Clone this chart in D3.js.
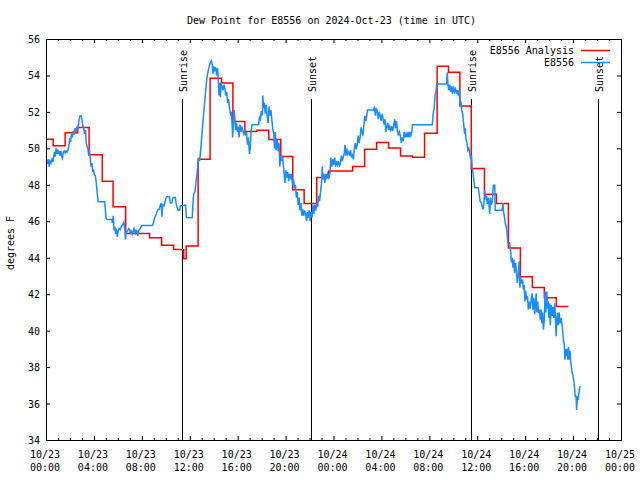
<!DOCTYPE html>
<html><head><meta charset="utf-8">
<script src="https://cdn.jsdelivr.net/npm/d3@7"></script>
<style>
body{margin:0;background:#fff}
svg{display:block}
text{font-family:"DejaVu Sans Mono","Liberation Mono",monospace;font-size:10px;fill:#000}
</style>
</head><body>
<svg id="chart" width="640" height="480"></svg>
<script>
const titleText = "Dew Point for E8556 on 2024-Oct-23 (time in UTC)";
const yAxisLabel = "degrees F";
const seriesNames = ["E8556 Analysis", "E8556"];
const seriesColors = ["#ff0000", "#1a8cff"];
const yTicks = [34, 36, 38, 40, 42, 44, 46, 48, 50, 52, 54, 56];
const xTickHours = [0, 4, 8, 12, 16, 20, 24, 28, 32, 36, 40, 44, 48];
const xTickDates = ["10/23","10/23","10/23","10/23","10/23","10/23","10/24","10/24","10/24","10/24","10/24","10/24","10/25"];
const xTickTimes = ["00:00","04:00","08:00","12:00","16:00","20:00","00:00","04:00","08:00","12:00","16:00","20:00","00:00"];
const sunriseHours = [11.38, 35.45];
const sunsetHours = [22.1, 46.08];

// Analysis (hourly step values), hours since 2024-10-23 00:00 UTC
const analysisHours = [0, 0.6, 1.6, 2.65, 3.6, 4.7, 5.6, 6.65, 7.65, 8.65, 9.65, 10.65, 11.5, 11.7, 12.7, 13.7, 14.65, 15.6, 16.6, 17.6, 18.6, 19.6, 20.6, 21.55, 22.6, 23.6, 24.6, 25.6, 26.6, 27.6, 28.6, 29.6, 30.6, 31.6, 32.65, 33.6, 34.55, 35.5, 36.6, 37.6, 38.6, 39.6, 40.6, 41.6, 42.6, 43.6];
const analysisValues = [50.5, 50.15, 50.85, 51.15, 49.65, 48.2, 46.8, 45.33, 45.33, 45.09, 44.69, 44.45, 43.94, 44.65, 49.4, 53.84, 53.58, 51.47, 50.92, 51.0, 50.48, 49.55, 47.73, 46.98, 48.4, 48.76, 48.76, 49.0, 49.95, 50.32, 50.02, 49.58, 49.51, 50.83, 54.5, 54.17, 52.33, 48.89, 47.48, 46.97, 44.54, 42.95, 42.36, 41.81, 41.32, 41.32];

// Station observations [hour, dew point F]
const observed = [
[0.05,49.4],[0.12,49.15],[0.2,49.4],[0.27,49.0],[0.34,49.3],[0.42,49.2],[0.5,49.4],[0.57,49.25],[0.64,49.55],[0.7,49.8],[0.77,49.55],[0.84,50.0],[0.9,49.7],[0.97,49.95],[1.04,49.7],[1.1,49.85],[1.17,49.6],[1.24,49.85],[1.3,49.55],[1.37,49.45],[1.44,49.8],[1.52,49.85],[1.6,49.75],[1.68,49.85],[1.76,49.8],[1.84,49.9],[1.92,50.2],[1.98,50.55],[2.05,50.35],[2.12,50.8],[2.2,50.6],[2.27,50.95],[2.34,50.75],[2.42,51.1],[2.5,50.9],[2.57,51.2],[2.64,51.0],[2.7,51.3],[2.77,51.6],[2.84,51.78],[2.95,51.78],[3.02,51.5],[3.08,51.2],[3.15,51.1],[3.22,50.8],[3.3,51.0],[3.36,50.3],[3.43,50.1],[3.5,49.95],[3.57,49.6],[3.64,49.85],[3.7,49.35],[3.77,49.0],[3.84,49.2],[3.9,48.7],[3.97,48.85],[4.04,48.55],[4.12,48.5],[4.2,48.1],[4.27,47.55],[4.36,47.07],[4.6,47.07],[4.9,47.07],[4.96,46.6],[5.02,46.15],[5.1,46.1],[5.5,46.1],[5.55,45.9],[5.62,46.3],[5.68,45.5],[5.75,45.7],[5.82,45.3],[5.88,45.6],[5.95,45.15],[6.02,45.45],[6.1,45.6],[6.2,45.55],[6.3,45.75],[6.4,45.8],[6.5,45.95],[6.58,45.6],[6.63,45.0],[6.7,45.4],[6.8,45.45],[6.9,45.6],[6.98,45.55],[7.05,45.3],[7.12,45.5],[7.2,45.3],[7.28,45.45],[7.35,45.6],[7.45,45.35],[7.52,45.5],[7.6,45.45],[7.65,45.2],[7.72,45.5],[7.8,45.55],[7.9,45.65],[7.98,45.77],[8.9,45.77],[8.98,45.95],[9.05,46.15],[9.15,46.3],[9.25,46.5],[9.35,46.65],[9.45,46.65],[9.55,46.9],[9.62,47.0],[9.68,46.25],[9.74,46.9],[9.85,46.85],[9.95,47.1],[10.05,47.35],[10.3,47.35],[10.38,47.0],[10.5,47.0],[10.6,47.3],[10.8,47.3],[10.88,46.9],[10.95,46.75],[11.05,46.6],[11.15,46.6],[11.22,46.85],[11.5,46.87],[11.65,46.9],[11.72,46.2],[12.2,46.19],[12.26,46.9],[12.33,47.5],[12.42,47.6],[12.5,48.0],[12.58,48.5],[12.66,48.9],[12.74,49.5],[12.82,49.3],[12.9,49.8],[12.97,50.4],[13.05,51.0],[13.12,51.6],[13.2,52.2],[13.27,52.7],[13.35,53.3],[13.42,53.8],[13.5,54.1],[13.57,54.35],[13.65,54.55],[13.72,54.7],[13.8,54.8],[13.88,54.6],[13.94,54.1],[14.0,54.5],[14.08,54.3],[14.16,54.45],[14.24,54.0],[14.32,54.4],[14.38,53.8],[14.44,52.9],[14.5,53.6],[14.56,52.8],[14.62,53.5],[14.7,53.4],[14.78,53.2],[14.86,53.5],[14.94,53.25],[15.0,52.9],[15.08,53.1],[15.16,52.5],[15.24,52.7],[15.32,52.2],[15.4,51.9],[15.46,52.0],[15.52,51.5],[15.58,50.6],[15.64,51.3],[15.7,52.1],[15.76,51.7],[15.83,51.0],[15.9,51.4],[15.98,50.9],[16.05,51.2],[16.12,50.6],[16.2,51.3],[16.28,50.9],[16.35,51.2],[16.42,51.0],[16.5,50.8],[16.58,51.0],[16.66,50.7],[16.74,50.9],[16.82,50.2],[16.9,50.6],[16.98,49.7],[17.05,50.0],[17.12,50.9],[17.2,51.3],[17.3,51.3],[17.75,51.3],[17.82,51.7],[17.9,51.6],[17.98,52.05],[18.06,51.8],[18.1,52.9],[18.16,52.2],[18.22,52.5],[18.3,51.9],[18.38,52.4],[18.46,51.8],[18.54,51.4],[18.62,52.3],[18.7,51.8],[18.78,52.1],[18.86,51.5],[18.94,51.0],[19.02,50.8],[19.08,50.0],[19.14,50.9],[19.22,49.9],[19.3,50.5],[19.38,49.85],[19.45,50.3],[19.52,49.0],[19.58,49.6],[19.66,49.3],[19.74,49.6],[19.82,49.0],[19.88,48.6],[19.95,48.1],[20.02,48.8],[20.1,48.4],[20.18,48.7],[20.26,48.2],[20.34,48.6],[20.42,48.4],[20.5,48.6],[20.58,48.0],[20.66,48.3],[20.74,47.8],[20.82,48.0],[20.9,47.3],[20.98,47.6],[21.05,46.9],[21.12,47.3],[21.2,46.6],[21.28,47.0],[21.36,46.3],[21.44,46.65],[21.52,46.3],[21.6,46.6],[21.68,46.4],[21.75,46.0],[21.82,46.5],[21.9,46.2],[21.97,46.6],[22.05,46.0],[22.12,46.5],[22.2,46.2],[22.28,46.9],[22.36,46.4],[22.44,46.9],[22.52,46.6],[22.6,47.0],[22.68,46.8],[22.76,47.4],[22.84,47.1],[22.92,47.6],[23.0,48.1],[23.06,49.0],[23.12,48.3],[23.2,48.6],[23.28,48.1],[23.36,48.6],[23.44,48.4],[23.52,48.6],[23.6,48.4],[23.7,48.6],[23.78,49.5],[23.86,49.0],[23.94,49.4],[24.02,49.1],[24.1,49.5],[24.18,49.0],[24.26,49.3],[24.34,49.1],[24.42,49.3],[24.5,49.0],[24.58,49.2],[24.66,49.6],[24.74,49.3],[24.82,49.55],[24.9,49.7],[24.96,50.2],[25.04,49.6],[25.1,50.0],[25.18,49.7],[25.26,49.8],[25.34,49.6],[25.42,49.9],[25.5,49.5],[25.58,49.7],[25.66,49.4],[25.74,50.0],[25.82,50.3],[25.9,49.95],[25.98,50.2],[26.06,50.7],[26.14,50.3],[26.22,50.6],[26.3,51.15],[26.38,50.9],[26.46,50.7],[26.54,51.3],[26.62,51.78],[26.7,51.5],[26.78,51.8],[26.84,52.1],[27.35,52.1],[27.42,52.3],[27.5,51.8],[27.58,52.2],[27.66,52.0],[27.74,51.6],[27.82,52.0],[27.9,51.8],[27.98,51.5],[28.06,51.9],[28.14,51.6],[28.22,51.3],[28.3,51.6],[28.38,50.9],[28.46,51.2],[28.54,51.4],[28.62,51.0],[28.7,51.2],[28.78,51.0],[28.86,51.2],[28.94,50.95],[29.02,51.2],[29.1,51.6],[29.18,51.1],[29.26,51.5],[29.34,50.95],[29.42,50.7],[29.5,50.9],[29.58,50.7],[29.66,50.3],[29.74,50.6],[29.82,50.4],[29.9,50.9],[29.98,50.6],[30.06,50.8],[30.14,50.6],[30.22,50.9],[30.3,50.6],[30.38,50.9],[30.46,50.7],[30.54,50.9],[30.6,51.3],[32.25,51.3],[32.32,51.9],[32.4,52.2],[32.48,52.9],[32.55,53.1],[32.62,53.53],[33.45,53.53],[33.5,54.17],[33.55,53.5],[33.62,53.2],[33.7,53.5],[33.78,53.1],[33.86,53.4],[33.94,53.0],[34.02,53.4],[34.1,53.1],[34.18,53.25],[34.26,53.0],[34.34,53.2],[34.42,52.9],[34.5,53.2],[34.56,52.3],[34.62,52.6],[34.7,52.1],[34.78,51.9],[34.86,51.4],[34.94,50.8],[35.0,51.1],[35.06,50.5],[35.14,50.3],[35.22,49.9],[35.3,50.0],[35.38,49.7],[35.46,49.4],[35.52,49.6],[35.58,48.9],[35.66,48.6],[35.74,48.1],[35.8,47.84],[36.08,47.84],[36.16,47.5],[36.24,47.1],[36.32,47.05],[36.42,46.8],[36.5,46.65],[36.56,47.0],[36.62,47.7],[36.68,47.2],[36.76,47.4],[36.84,46.95],[36.92,47.3],[36.98,46.9],[37.04,46.4],[37.1,47.3],[37.18,46.9],[37.26,47.1],[37.34,47.97],[37.46,47.97],[37.5,46.6],[38.08,46.6],[38.14,47.0],[38.2,46.5],[38.28,46.2],[38.35,45.85],[38.42,45.7],[38.5,45.3],[38.55,44.82],[38.7,44.82],[38.78,44.45],[38.85,43.75],[38.92,44.0],[38.98,43.45],[39.05,43.9],[39.12,43.15],[39.2,43.7],[39.27,43.3],[39.34,42.62],[39.42,43.0],[39.5,43.8],[39.56,42.35],[39.62,42.9],[39.7,42.6],[39.78,42.8],[39.85,42.25],[39.92,42.5],[39.98,41.6],[40.04,42.2],[40.12,41.7],[40.2,41.9],[40.26,41.15],[40.34,41.6],[40.42,41.2],[40.5,41.7],[40.58,42.05],[40.65,41.15],[40.72,41.8],[40.8,40.9],[40.86,41.5],[40.92,42.05],[40.98,41.0],[41.05,41.6],[41.12,40.97],[41.2,41.15],[41.26,40.6],[41.32,41.15],[41.4,40.4],[41.46,41.0],[41.52,40.05],[41.6,40.6],[41.66,42.15],[41.72,41.0],[41.8,42.15],[41.86,41.2],[41.92,41.6],[41.98,40.7],[42.04,41.5],[42.1,40.3],[42.18,41.4],[42.26,40.8],[42.32,41.3],[42.4,40.7],[42.46,41.5],[42.52,40.9],[42.58,39.7],[42.64,40.5],[42.7,40.97],[42.76,40.3],[42.84,41.0],[42.9,40.4],[42.98,40.7],[43.06,40.4],[43.12,40.05],[43.2,39.4],[43.26,39.3],[43.32,38.4],[43.38,39.0],[43.44,38.6],[43.5,39.0],[43.56,38.4],[43.62,39.1],[43.68,38.4],[43.74,38.9],[43.8,38.3],[43.86,38.0],[43.92,37.67],[43.98,37.6],[44.05,37.3],[44.12,36.9],[44.18,36.4],[44.24,36.4],[44.3,35.65],[44.36,36.4],[44.42,36.2],[44.48,36.5],[44.55,36.9],[44.62,36.95]
];

const svg = d3.select("#chart");
const x = d3.scaleLinear().domain([0, 48]).range([46, 621]);
const y = d3.scaleLinear().domain([34, 56]).range([440, 39]);
const minorHours = d3.range(0, 49).filter(h => h % 4 !== 0);

// clip path
svg.append("defs").append("clipPath").attr("id", "plotclip")
  .append("rect").attr("x", 46).attr("y", 39).attr("width", 576).attr("height", 402);

function ticks(g) { g.select(".domain").remove(); g.selectAll(".tick line").attr("stroke", "#000"); }

svg.append("g").attr("transform", `translate(0,${y(34)})`)
  .call(d3.axisBottom(x).tickValues(xTickHours).tickSize(-4).tickFormat("")).call(ticks);
svg.append("g").attr("transform", `translate(0,${y(34)})`)
  .call(d3.axisBottom(x).tickValues(minorHours).tickSize(-2).tickFormat("")).call(ticks);
svg.append("g").attr("transform", `translate(0,${y(56)})`)
  .call(d3.axisTop(x).tickValues(xTickHours).tickSize(-4).tickFormat("")).call(ticks);
svg.append("g").attr("transform", `translate(0,${y(56)})`)
  .call(d3.axisTop(x).tickValues(minorHours).tickSize(-2).tickFormat("")).call(ticks);
svg.append("g").attr("transform", `translate(${x(0)},0)`)
  .call(d3.axisLeft(y).tickValues(yTicks).tickSize(-4).tickFormat("")).call(ticks);
svg.append("g").attr("transform", `translate(${x(48)},0)`)
  .call(d3.axisRight(y).tickValues(yTicks).tickSize(-4).tickFormat("")).call(ticks);

// Y tick labels
svg.append("g").selectAll("text").data(yTicks).join("text")
  .attr("x", 40).attr("y", d => y(d) + 4).attr("text-anchor", "end").text(d => d);

// X tick labels
const xl = svg.append("g").selectAll("text").data(xTickHours).join("text")
  .attr("text-anchor", "middle");
xl.append("tspan").attr("x", (d) => x(d) - 1).attr("y", 458).text((d, i) => xTickDates[i]);
xl.append("tspan").attr("x", (d) => x(d) - 1).attr("y", 471).text((d, i) => xTickTimes[i]);

// Sunrise / sunset markers
const sunEvents = sunriseHours.map(h => ({h, label: "Sunrise"}))
  .concat(sunsetHours.map(h => ({h, label: "Sunset"})));
const sg = svg.append("g");
sunEvents.forEach(ev => {
  const px = Math.round(x(ev.h)) + 0.5;
  sg.append("line").attr("x1", px).attr("x2", px).attr("y1", 99).attr("y2", y(34))
    .attr("stroke", "#000").attr("stroke-width", 1);
  sg.append("text").attr("transform", `translate(${px + 4.5},92) rotate(-90)`)
    .attr("text-anchor", "start").text(ev.label);
});

// Data lines
const plot = svg.append("g").attr("clip-path", "url(#plotclip)");
const analysisLine = d3.line().x((d, i) => x(analysisHours[i])).y(d => y(d)).curve(d3.curveStepAfter);
plot.append("path").datum(analysisValues).attr("d", analysisLine)
  .attr("fill", "none").attr("stroke", seriesColors[0]).attr("stroke-width", 1.5);
const obsLine = d3.line().x(d => x(d[0])).y(d => y(d[1]));
plot.append("path").datum(observed).attr("d", obsLine)
  .attr("fill", "none").attr("stroke", seriesColors[1]).attr("stroke-width", 1.5);

// Border
svg.append("rect").attr("x", 46.5).attr("y", 39.5).attr("width", 575).attr("height", 401)
  .attr("fill", "none").attr("stroke", "#000").attr("stroke-width", 1);

// Title and axis label
svg.append("text").attr("x", 331.5).attr("y", 24).attr("text-anchor", "middle").text(titleText);
svg.append("text").attr("transform", "translate(14,243) rotate(-90)").attr("text-anchor", "middle").text(yAxisLabel);

// Legend
const legendY = [50, 62];
seriesNames.forEach((name, i) => {
  svg.append("text").attr("x", 574).attr("y", legendY[i] + 4).attr("text-anchor", "end").text(name);
  svg.append("line").attr("x1", 581).attr("x2", 610).attr("y1", legendY[i] + 0.5).attr("y2", legendY[i] + 0.5)
    .attr("stroke", seriesColors[i]).attr("stroke-width", 1.5);
});
</script>
</body></html>
